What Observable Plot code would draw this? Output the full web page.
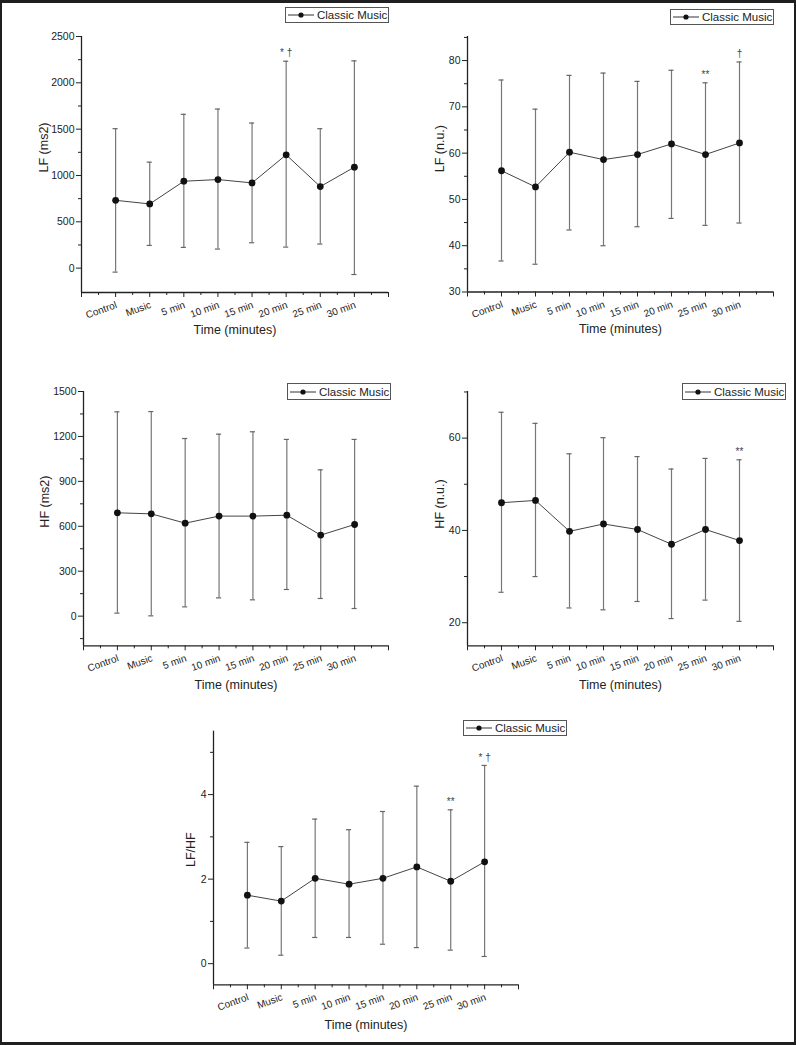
<!DOCTYPE html>
<html><head><meta charset="utf-8">
<script src="https://cdn.jsdelivr.net/npm/d3@7"></script>
<script src="https://cdn.jsdelivr.net/npm/@observablehq/plot@0.6"></script>
<style>
html,body{margin:0;padding:0;background:#fff;}
#page{position:relative;width:796px;height:1045px;overflow:hidden;background:#fff;font-family:"Liberation Sans",Arial,sans-serif;}
#border{position:absolute;left:0;top:0;width:796px;height:1045px;box-sizing:border-box;border-style:solid;border-color:#1f1f1f;border-width:3px 2px 3px 2px;pointer-events:none;z-index:10}
.panel{position:absolute;}
.legend{position:absolute;box-sizing:border-box;border:1px solid #555;background:#fff;height:16px;width:104px;display:flex;align-items:center;font-size:11.5px;color:#222;white-space:nowrap;z-index:5}
.legend svg{margin-left:1px;margin-right:2px;flex:none}
</style></head>
<body><div id="page"><div id="border"></div></div>
<script>
const categories = ["Control","Music","5 min","10 min","15 min","20 min","25 min","30 min"];
const seriesName = "Classic Music";
const xTitle = "Time (minutes)";

// LF (ms2)
const lfMs2Mean  = [732, 693, 938, 956, 920, 1223, 880, 1090];
const lfMs2Upper = [1505, 1144, 1660, 1717, 1566, 2233, 1505, 2237];
const lfMs2Lower = [-43, 245, 224, 206, 274, 227, 260, -69];
const lfMs2NoteCats = ["20 min"];
const lfMs2NoteText = ["* †"];
const lfMs2Ticks = [0, 500, 1000, 1500, 2000, 2500];
const lfMs2Minor = [250, 750, 1250, 1750, 2250];

// LF (n.u.)
const lfNuMean  = [56.2, 52.7, 60.2, 58.6, 59.7, 62.0, 59.7, 62.2];
const lfNuUpper = [75.8, 69.5, 76.8, 77.3, 75.5, 77.9, 75.2, 79.7];
const lfNuLower = [36.7, 36.0, 43.4, 40.0, 44.1, 45.9, 44.4, 44.9];
const lfNuNoteCats = ["25 min", "30 min"];
const lfNuNoteText = ["**", "†"];
const lfNuTicks = [30, 40, 50, 60, 70, 80];
const lfNuMinor = [35, 45, 55, 65, 75, 85];

// HF (ms2)
const hfMs2Mean  = [690, 683, 621, 668, 668, 674, 541, 612];
const hfMs2Upper = [1364, 1366, 1186, 1215, 1231, 1180, 977, 1180];
const hfMs2Lower = [20, 2, 62, 122, 109, 178, 118, 51];
const hfMs2NoteCats = [];
const hfMs2NoteText = [];
const hfMs2Ticks = [0, 300, 600, 900, 1200, 1500];
const hfMs2Minor = [-150, 150, 450, 750, 1050, 1350];

// HF (n.u.)
const hfNuMean  = [46.0, 46.5, 39.8, 41.4, 40.2, 37.0, 40.2, 37.8];
const hfNuUpper = [65.6, 63.2, 56.6, 60.1, 56.0, 53.3, 55.6, 55.3];
const hfNuLower = [26.6, 30.0, 23.2, 22.8, 24.6, 20.9, 24.9, 20.3];
const hfNuNoteCats = ["30 min"];
const hfNuNoteText = ["**"];
const hfNuTicks = [20, 40, 60];
const hfNuMinor = [30, 50, 70];

// LF/HF
const ratioMean  = [1.62, 1.48, 2.02, 1.88, 2.02, 2.29, 1.95, 2.41];
const ratioUpper = [2.87, 2.77, 3.42, 3.17, 3.60, 4.20, 3.64, 4.69];
const ratioLower = [0.37, 0.20, 0.62, 0.62, 0.46, 0.38, 0.32, 0.17];
const ratioNoteCats = ["25 min", "30 min"];
const ratioNoteText = ["**", "* †"];
const ratioTicks = [0, 2, 4];
const ratioMinor = [1, 3, 5];

function panel(o) {
  const rows = categories.map((c, i) => ({c, x: i + 1, mean: o.mean[i], lo: o.lower[i], hi: o.upper[i]}));
  const notes = o.noteCats.map((c, k) => {
    const i = categories.indexOf(c);
    return {x: i + 1, y: o.upper[i], t: o.noteText[k]};
  });
  const capW = 0.075;
  const ax = "#222";
  return Plot.plot({
    width: o.width, height: o.height,
    marginLeft: o.ml, marginRight: o.mr, marginTop: o.mt, marginBottom: o.mb,
    style: {fontFamily: "Liberation Sans, Arial, sans-serif", fontSize: "10.5px", color: ax, background: "transparent", overflow: "visible"},
    x: {domain: [0, 9]},
    y: {domain: o.yDomain},
    marks: [
      Plot.ruleX(rows, {x: "x", y1: "lo", y2: "hi", stroke: "#777", strokeWidth: 1.2}),
      Plot.ruleY(rows, {y: "hi", x1: d => d.x - capW, x2: d => d.x + capW, stroke: "#666", strokeWidth: 1.2}),
      Plot.ruleY(rows, {y: "lo", x1: d => d.x - capW, x2: d => d.x + capW, stroke: "#666", strokeWidth: 1.2}),
      Plot.line(rows, {x: "x", y: "mean", stroke: "#444", strokeWidth: 1}),
      Plot.dot(rows, {x: "x", y: "mean", r: 3.4, fill: "#111", stroke: null}),
      Plot.text(notes, {x: "x", y: "y", text: "t", dy: -8, fontSize: 10, fill: "#444"}),
      Plot.ruleX([0], {stroke: ax, strokeWidth: 1.3}),
      Plot.ruleY([o.yDomain[0]], {stroke: ax, strokeWidth: 1.3}),
      Plot.axisY({ticks: o.yTicks, tickSize: 5, tickPadding: 2, tickFormat: d => String(d), label: null}),
      Plot.axisY({ticks: o.yMinor, tickSize: 3, tickFormat: () => "", label: null}),
      Plot.axisX({ticks: d3.range(0, 10), tickSize: 5, tickFormat: () => "", label: null}),
      Plot.axisX({ticks: d3.range(0.5, 9, 1), tickSize: 3, tickFormat: () => "", label: null}),
      Plot.text(rows, {x: "x", text: "c", frameAnchor: "bottom", rotate: -20, textAnchor: "end", dy: 15, dx: 2, fontSize: 10, fill: ax}),
      Plot.text([o.yLabel], {text: d => d, frameAnchor: "left", rotate: -90, dx: o.labelDx, dy: o.labelDy, fontSize: 12.5, fill: ax}),
      Plot.text([xTitle], {text: d => d, frameAnchor: "bottom", dy: o.xLabelDy, fontSize: 12.5, fill: ax})
    ]
  });
}

function place(el, left, top) {
  const d = document.createElement("div");
  d.className = "panel";
  d.style.left = left + "px";
  d.style.top = top + "px";
  d.appendChild(el);
  document.getElementById("page").appendChild(d);
}

function legend(left, top, h) {
  const d = document.createElement("div");
  d.className = "legend";
  d.style.left = left + "px";
  d.style.top = top + "px";
  if (h) d.style.height = h + "px";
  d.innerHTML = '<svg width="28" height="12"><line x1="1" y1="6" x2="27" y2="6" stroke="#333" stroke-width="1"/><circle cx="14" cy="6" r="2.6" fill="#111"/></svg><span>' + seriesName + '</span>';
  document.getElementById("page").appendChild(d);
}

place(panel({mean: lfMs2Mean, upper: lfMs2Upper, lower: lfMs2Lower, noteCats: lfMs2NoteCats, noteText: lfMs2NoteText,
  yDomain: [-263, 2500], yTicks: lfMs2Ticks, yMinor: lfMs2Minor, yLabel: "LF (ms2)",
  width: 400, height: 345, ml: 81, mr: 12, mt: 36, mb: 53, labelDx: -38, labelDy: 8, xLabelDy: 41}), 0, 0);

place(panel({mean: lfNuMean, upper: lfNuUpper, lower: lfNuLower, noteCats: lfNuNoteCats, noteText: lfNuNoteText,
  yDomain: [30, 85.2], yTicks: lfNuTicks, yMinor: lfNuMinor, yLabel: "LF (n.u.)",
  width: 400, height: 345, ml: 71, mr: 23, mt: 36, mb: 53.5, labelDx: -28, labelDy: 8, xLabelDy: 41}), 396, 0);

place(panel({mean: hfMs2Mean, upper: hfMs2Upper, lower: hfMs2Lower, noteCats: hfMs2NoteCats, noteText: hfMs2NoteText,
  yDomain: [-198, 1500], yTicks: hfMs2Ticks, yMinor: hfMs2Minor, yLabel: "HF (ms2)",
  width: 400, height: 355, ml: 83, mr: 12, mt: 51, mb: 49.7, labelDx: -39, labelDy: 9, xLabelDy: 43}), 0, 340);

place(panel({mean: hfNuMean, upper: hfNuUpper, lower: hfNuLower, noteCats: hfNuNoteCats, noteText: hfNuNoteText,
  yDomain: [15, 70.1], yTicks: hfNuTicks, yMinor: hfNuMinor, yLabel: "HF (n.u.)",
  width: 400, height: 355, ml: 71, mr: 23, mt: 51, mb: 49.7, labelDx: -28, labelDy: 10, xLabelDy: 43}), 396, 340);

place(panel({mean: ratioMean, upper: ratioUpper, lower: ratioLower, noteCats: ratioNoteCats, noteText: ratioNoteText,
  yDomain: [-0.5, 5.5], yTicks: ratioTicks, yMinor: ratioMinor, yLabel: "LF/HF",
  width: 420, height: 342, ml: 33, mr: 82, mt: 30.7, mb: 57.7, labelDx: -23, labelDy: 9, xLabelDy: 44}), 180, 700);

legend(285, 7);
legend(670, 9);
legend(287, 383, 17);
legend(682, 383, 17);
legend(463, 720);
</script>
</body></html>
